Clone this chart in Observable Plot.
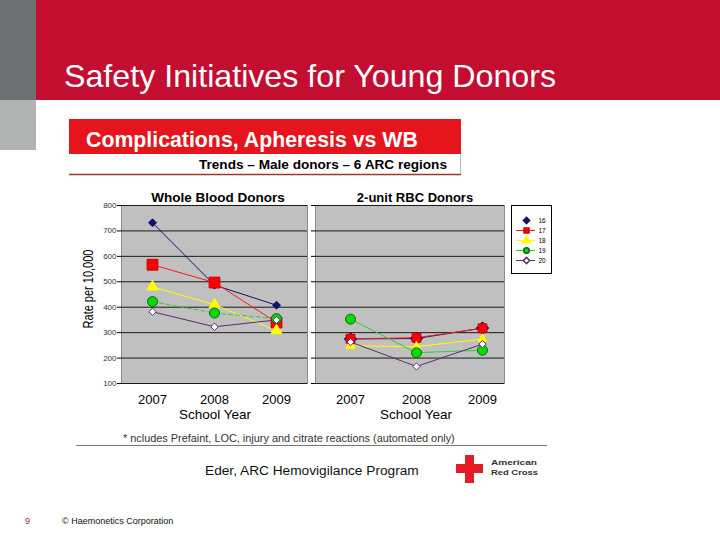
<!DOCTYPE html>
<html>
<head>
<meta charset="utf-8">
<script src="https://cdn.jsdelivr.net/npm/d3@7"></script>
<script src="https://cdn.jsdelivr.net/npm/@observablehq/plot@0.6"></script>
<style>
  body { margin: 0; background: #fff; }
  #page { position: relative; width: 720px; height: 540px; overflow: hidden; font-family: "Liberation Sans", Arial, sans-serif; }
  .abs { position: absolute; }
  .plt svg { overflow: visible; }
  .plt [aria-label^="y-axis"] text { font-size: 8px; fill: #333; }
  .plt [aria-label^="x-axis"] text { font-size: 13px; fill: #000; }
</style>
</head>
<body>
<div id="page">
  <svg class="abs" style="left:0;top:0" width="720" height="540" font-family="Liberation Sans, Arial, sans-serif">
    <rect x="0" y="0" width="36" height="100" fill="#6d7071"/>
    <rect x="0" y="100" width="36" height="50" fill="#b1b3b3"/>
    <rect x="36" y="0" width="684" height="100" fill="#c30e31"/>
    <text x="64" y="87" font-size="32.2" fill="#fff">Safety Initiatives for Young Donors</text>

    <rect x="69" y="119" width="392" height="35" fill="#e5141d"/>
    <text x="86" y="147" font-size="21.3" font-weight="bold" fill="#fff">Complications, Apheresis vs WB</text>
    <line x1="460.5" y1="154" x2="460.5" y2="174" stroke="#bbb"/>
    <text x="447" y="169" font-size="13.6" font-weight="bold" fill="#000" text-anchor="end">Trends – Male donors – 6 ARC regions</text>
    <line x1="69" y1="174.5" x2="461" y2="174.5" stroke="#9b3a2a" stroke-width="1.5"/>

    <text x="218" y="201.5" font-size="13.5" font-weight="bold" text-anchor="middle">Whole Blood Donors</text>
    <text x="415" y="202" font-size="13" font-weight="bold" text-anchor="middle">2-unit RBC Donors</text>
    <text transform="translate(93,289) rotate(-90) scale(1,1.3)" font-size="11" text-anchor="middle">Rate per 10,000</text>
    <text x="215" y="419" font-size="13.5" text-anchor="middle">School Year</text>
    <text x="416" y="419" font-size="13.5" text-anchor="middle">School Year</text>

    <text x="123" y="442" font-size="10.9" fill="#333">* ncludes Prefaint, LOC, injury and citrate reactions (automated only)</text>
    <line x1="76" y1="445.5" x2="547" y2="445.5" stroke="#777"/>
    <text x="205" y="475" font-size="13.7" fill="#111">Eder, ARC Hemovigilance Program</text>
    <rect x="465" y="455" width="9" height="28" fill="#e31b23"/>
    <rect x="456" y="464" width="27" height="9" fill="#e31b23"/>
    <text x="491" y="465" font-size="8" font-weight="bold" fill="#333" textLength="46" lengthAdjust="spacingAndGlyphs">American</text>
    <text x="491" y="474.5" font-size="8" font-weight="bold" fill="#333" textLength="47" lengthAdjust="spacingAndGlyphs">Red Cross</text>

    <text x="25" y="524" font-size="9" fill="#9b1b4b">9</text>
    <text x="62" y="524" font-size="9" fill="#111">© Haemonetics Corporation</text>
  </svg>
  <div id="left" class="abs plt" style="left:70px;top:195px"></div>
  <div id="right" class="abs plt" style="left:300px;top:195px"></div>
  <div id="legend" class="abs plt" style="left:511px;top:205px"></div>
</div>
<script>
// ---- data ----
const years = ["2007", "2008", "2009"];
const seriesNames = ["16", "17", "18", "19", "20"];
const yTicks = [100, 200, 300, 400, 500, 600, 700, 800];

// Whole Blood Donors (rate per 10,000)
const wb16 = [732, 487, 408];
const wb17 = [567, 497, 340];
const wb18 = [480, 410, 308];
const wb19 = [422, 377, 355];
const wb20 = [382, 323, 350];

// 2-unit RBC Donors (rate per 10,000)
const rbc16 = [275, 277, 318];
const rbc17 = [276, 280, 317];
const rbc18 = [248, 245, 275];
const rbc19 = [353, 221, 231];
const rbc20 = [263, 167, 255];

// ---- styles ----
const sty = {
  "16": {line: "#10106e", fill: "#10106e", stroke: "#10106e", symbol: d3.symbolDiamond2, rL: 3.6, rR: 5.6, legendLine: false},
  "17": {line: "#ff1a1a", fill: "#ff0000", stroke: "#d00000", symbol: "square", rL: 6.1, rR: 5, legendLine: true},
  "18": {line: "#ffff00", fill: "#ffff00", stroke: "#ffff00", symbol: "triangle", rL: 4.1, rR: 3.4, legendLine: true},
  "19": {line: "#33cc33", fill: "#00dd00", stroke: "#1a5e1a", symbol: "circle", rL: 5, rR: 5, legendLine: true},
  "20": {line: "#5b2c6f", fill: "#ffffff", stroke: "#5b2c6f", symbol: d3.symbolDiamond2, rL: 3.3, rR: 3.3, legendLine: true}
};

const rows = vals => years.map((year, i) => ({year, value: vals[i]}));
const wbSeries = {"16": wb16, "17": wb17, "18": wb18, "19": wb19, "20": wb20};
const rbcSeries = {"16": rbc16, "17": rbc17, "18": rbc18, "19": rbc19, "20": rbc20};

function panel(series, opts) {
  const lines = seriesNames.map(s => Plot.line(rows(series[s]), {
    x: "year", y: "value", stroke: sty[s].line, strokeWidth: 1,
    strokeDasharray: (opts.dash && s === "19") ? "4,3" : null
  }));
  const dots = seriesNames.map(s => Plot.dot(rows(series[s]), {
    x: "year", y: "value", symbol: sty[s].symbol, r: opts.left ? sty[s].rL : sty[s].rR,
    fill: sty[s].fill, stroke: sty[s].stroke, strokeWidth: 1
  }));
  return Plot.plot({
    width: opts.width, height: 225,
    marginLeft: opts.marginLeft, marginRight: opts.marginRight, marginTop: 10, marginBottom: 37,
    style: {background: "transparent", fontFamily: "Liberation Sans, Arial, sans-serif", overflow: "visible"},
    x: {type: "point", domain: years, range: opts.xRange, padding: 0, tickSize: 0, tickPadding: 11, label: null},
    y: {domain: [100, 800], ticks: yTicks, tickSize: 4, tickPadding: 1, label: null,
        tickFormat: opts.left ? d => String(d) : () => ""},
    marks: [
      Plot.frame({fill: "#c0c0c0", stroke: "#8a8a8a"}),
      Plot.ruleY(yTicks, {stroke: "#1a1a1a", strokeWidth: 1}),
      ...lines,
      ...dots
    ]
  });
}

document.getElementById("left").append(panel(wbSeries, {left: true, dash: true, width: 240, marginLeft: 51, marginRight: 3, xRange: [82, 206]}));
document.getElementById("right").append(panel(rbcSeries, {left: false, dash: false, width: 210, marginLeft: 15, marginRight: 6, xRange: [49, 182]}));

// legend
const legendMarks = [Plot.frame({stroke: "#000", fill: "#fff"})];
seriesNames.forEach(s => {
  if (sty[s].legendLine) legendMarks.push(Plot.ruleY([s], {y: d => d, x1: 5, x2: 24, stroke: sty[s].line, strokeWidth: 1}));
  legendMarks.push(Plot.dot([s], {y: d => d, x: 15, symbol: sty[s].symbol, r: 2.8, fill: sty[s].fill, stroke: sty[s].stroke}));
});
legendMarks.push(Plot.text(seriesNames, {y: d => d, x: 27, text: d => d, textAnchor: "start", fontSize: 6.5, fill: "#000"}));
document.getElementById("legend").append(Plot.plot({
  width: 40, height: 68, margin: 0,
  style: {background: "transparent", fontFamily: "Liberation Sans, Arial, sans-serif"},
  x: {domain: [0, 40], range: [0, 40], axis: null},
  y: {type: "point", domain: seriesNames, range: [9, 61], axis: null},
  marks: legendMarks
}));
</script>
</body>
</html>
